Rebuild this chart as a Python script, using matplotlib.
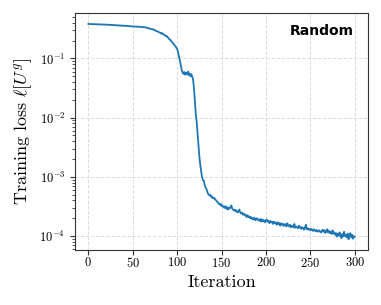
import numpy as np
import matplotlib
matplotlib.use("Agg")
import matplotlib.pyplot as plt

plt.rcParams["font.family"] = "serif"
plt.rcParams["font.serif"] = ["cmr10"]
plt.rcParams["mathtext.fontset"] = "cm"
plt.rcParams["axes.formatter.use_mathtext"] = True

# training loss per iteration
loss = [
    0.383, 0.380, 0.382, 0.379, 0.381, 0.378, 0.380, 0.377, 0.379, 0.376,
    0.378, 0.375, 0.377, 0.374, 0.376, 0.373, 0.375, 0.372, 0.374, 0.371,
    0.371, 0.373, 0.369, 0.369, 0.371, 0.366, 0.368, 0.365, 0.368, 0.363,
    0.365, 0.362, 0.365, 0.360, 0.362, 0.360, 0.357, 0.360, 0.356, 0.358,
    0.356, 0.354, 0.357, 0.353, 0.354, 0.351, 0.352, 0.349, 0.350, 0.346,
    0.346, 0.348, 0.344, 0.345, 0.346, 0.342, 0.343, 0.344, 0.340, 0.341,
    0.338, 0.341, 0.336, 0.337, 0.333, 0.334, 0.328, 0.329, 0.321, 0.319,
    0.317, 0.311, 0.310, 0.312, 0.302, 0.300, 0.292, 0.289, 0.284, 0.281,
    0.274, 0.272, 0.262, 0.268, 0.256, 0.254, 0.244, 0.240, 0.242, 0.227,
    0.224, 0.212, 0.208, 0.197, 0.192, 0.181, 0.178, 0.166, 0.162, 0.151,
    0.146, 0.128, 0.108, 0.092, 0.078, 0.066, 0.058, 0.055, 0.059, 0.053,
    0.057, 0.054, 0.060, 0.052, 0.056, 0.050, 0.054, 0.049, 0.044, 0.030,
    0.018, 0.0115, 0.0085, 0.0055, 0.0034, 0.0022, 0.0016, 0.00125, 0.00100, 0.00088,
    0.00086, 0.00072, 0.00067, 0.00062, 0.00056, 0.00051, 0.00049, 0.00050, 0.00046, 0.00047,
    0.00044, 0.00043, 0.00044, 0.00041, 0.00040, 0.00038, 0.00037, 0.00035, 0.00034, 0.00035,
    0.00032, 0.00033, 0.00031, 0.00030, 0.00032, 0.00029, 0.00031, 0.00028, 0.00030, 0.00029,
    0.00031, 0.00033, 0.00029, 0.00028, 0.00027, 0.00028, 0.00026, 0.00027, 0.00025, 0.00026,
    0.00028, 0.00025, 0.00024, 0.00025, 0.00023, 0.00024, 0.000225, 0.00023, 0.00021, 0.000225,
    0.00021, 0.000215, 0.00020, 0.00021, 0.000195, 0.00020, 0.00019, 0.000205, 0.000185, 0.000195,
    0.00020, 0.000185, 0.00019, 0.00018, 0.000195, 0.000175, 0.00019, 0.00018, 0.000185, 0.00017,
    0.000185, 0.00019, 0.000175, 0.00018, 0.000165, 0.00018, 0.00017, 0.000175, 0.00016, 0.000175,
    0.000165, 0.00017, 0.000155, 0.00017, 0.00016, 0.000165, 0.00015, 0.000165, 0.000155, 0.00016,
    0.000148, 0.00016, 0.000152, 0.000145, 0.000165, 0.00015, 0.000145, 0.000155, 0.00014, 0.00015,
    0.000145, 0.00014, 0.00016, 0.000138, 0.000145, 0.00014, 0.000135, 0.00015, 0.000138, 0.000142,
    0.000132, 0.00014, 0.000137, 0.000128, 0.00014, 0.000155, 0.00013, 0.000135, 0.000128, 0.000132,
    0.000125, 0.000132, 0.000128, 0.000122, 0.00013, 0.000125, 0.00012, 0.000127, 0.000122, 0.000118,
    0.000125, 0.00012, 0.000115, 0.000122, 0.000128, 0.000118, 0.000125, 0.000113, 0.00012, 0.00013,
    0.000115, 0.000122, 0.000112, 0.000118, 0.000108, 0.000125, 0.00011, 0.000115, 0.000105, 0.000112,
    0.000098, 0.00011, 0.000102, 0.000115, 0.0001, 0.000092, 0.000108, 0.000098, 0.000118, 0.0001,
    0.000105, 0.000095, 0.00011, 0.000088, 0.000102, 0.000112, 0.000095, 0.000105, 0.00009, 0.0001,
    0.000098,
]
iterations = np.arange(len(loss))
x_ticks = [0, 50, 100, 150, 200, 250, 300]

fig = plt.figure(figsize=(3.81, 3.05), dpi=100)
ax = fig.add_axes([0.197, 0.180, 0.769, 0.777])

ax.plot(iterations, loss, color="#1f77b4", linewidth=1.3)
ax.set_yscale("log")
ax.set_xticks(x_ticks)
ax.grid(True, which="major", linestyle="--", color="#dcdcdc", linewidth=0.7)
ax.set_axisbelow(True)

for s in ax.spines.values():
    s.set_color("#333333")
ax.tick_params(labelsize=9, colors="#333333", labelcolor="black")
ax.tick_params(which="minor", colors="#333333")
ax.tick_params(axis="x", pad=1)

ax.set_xlabel("Iteration", fontsize=13, labelpad=3)
ax.set_ylabel(r"Training loss $\ell[U^g]$", fontsize=13)

ax.text(0.95, 0.924, "Random", transform=ax.transAxes, ha="right", va="center",
        fontsize=10, fontweight="bold", family="DejaVu Sans")

fig.savefig("out.png", dpi=100)
